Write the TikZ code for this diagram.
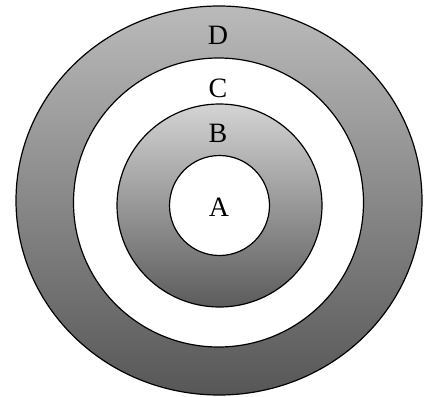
\documentclass[tikz,border=0pt]{standalone}
\usepackage{fontspec}
\setmainfont{Liberation Serif}
\begin{document}
\begin{tikzpicture}[x=1pt,y=-1pt,
  ring/.style={draw=black,line width=1.2pt},
  lbl/.style={font=\fontsize{28}{28}\selectfont,inner sep=0pt}]
\useasboundingbox (0,0) rectangle (425,396);
\path[ring,top color=black!27,bottom color=black!66] (219,200.5) ellipse [x radius=203,y radius=194.5];
\path[ring,fill=white] (218.5,202.5) ellipse [x radius=145,y radius=144.5];
\path[ring,top color=black!17,bottom color=black!64] (219.5,205.5) ellipse [x radius=102.5,y radius=101.5];
\path[ring,fill=white] (219.5,205.5) circle [radius=50];
\node[lbl] (d) at (218,35) {D};
\node[lbl] (c) at (218,88) {C};
\node[lbl] (b) at (218,133) {B};
\node[lbl] (a) at (219,207) {A};
\end{tikzpicture}
\end{document}
